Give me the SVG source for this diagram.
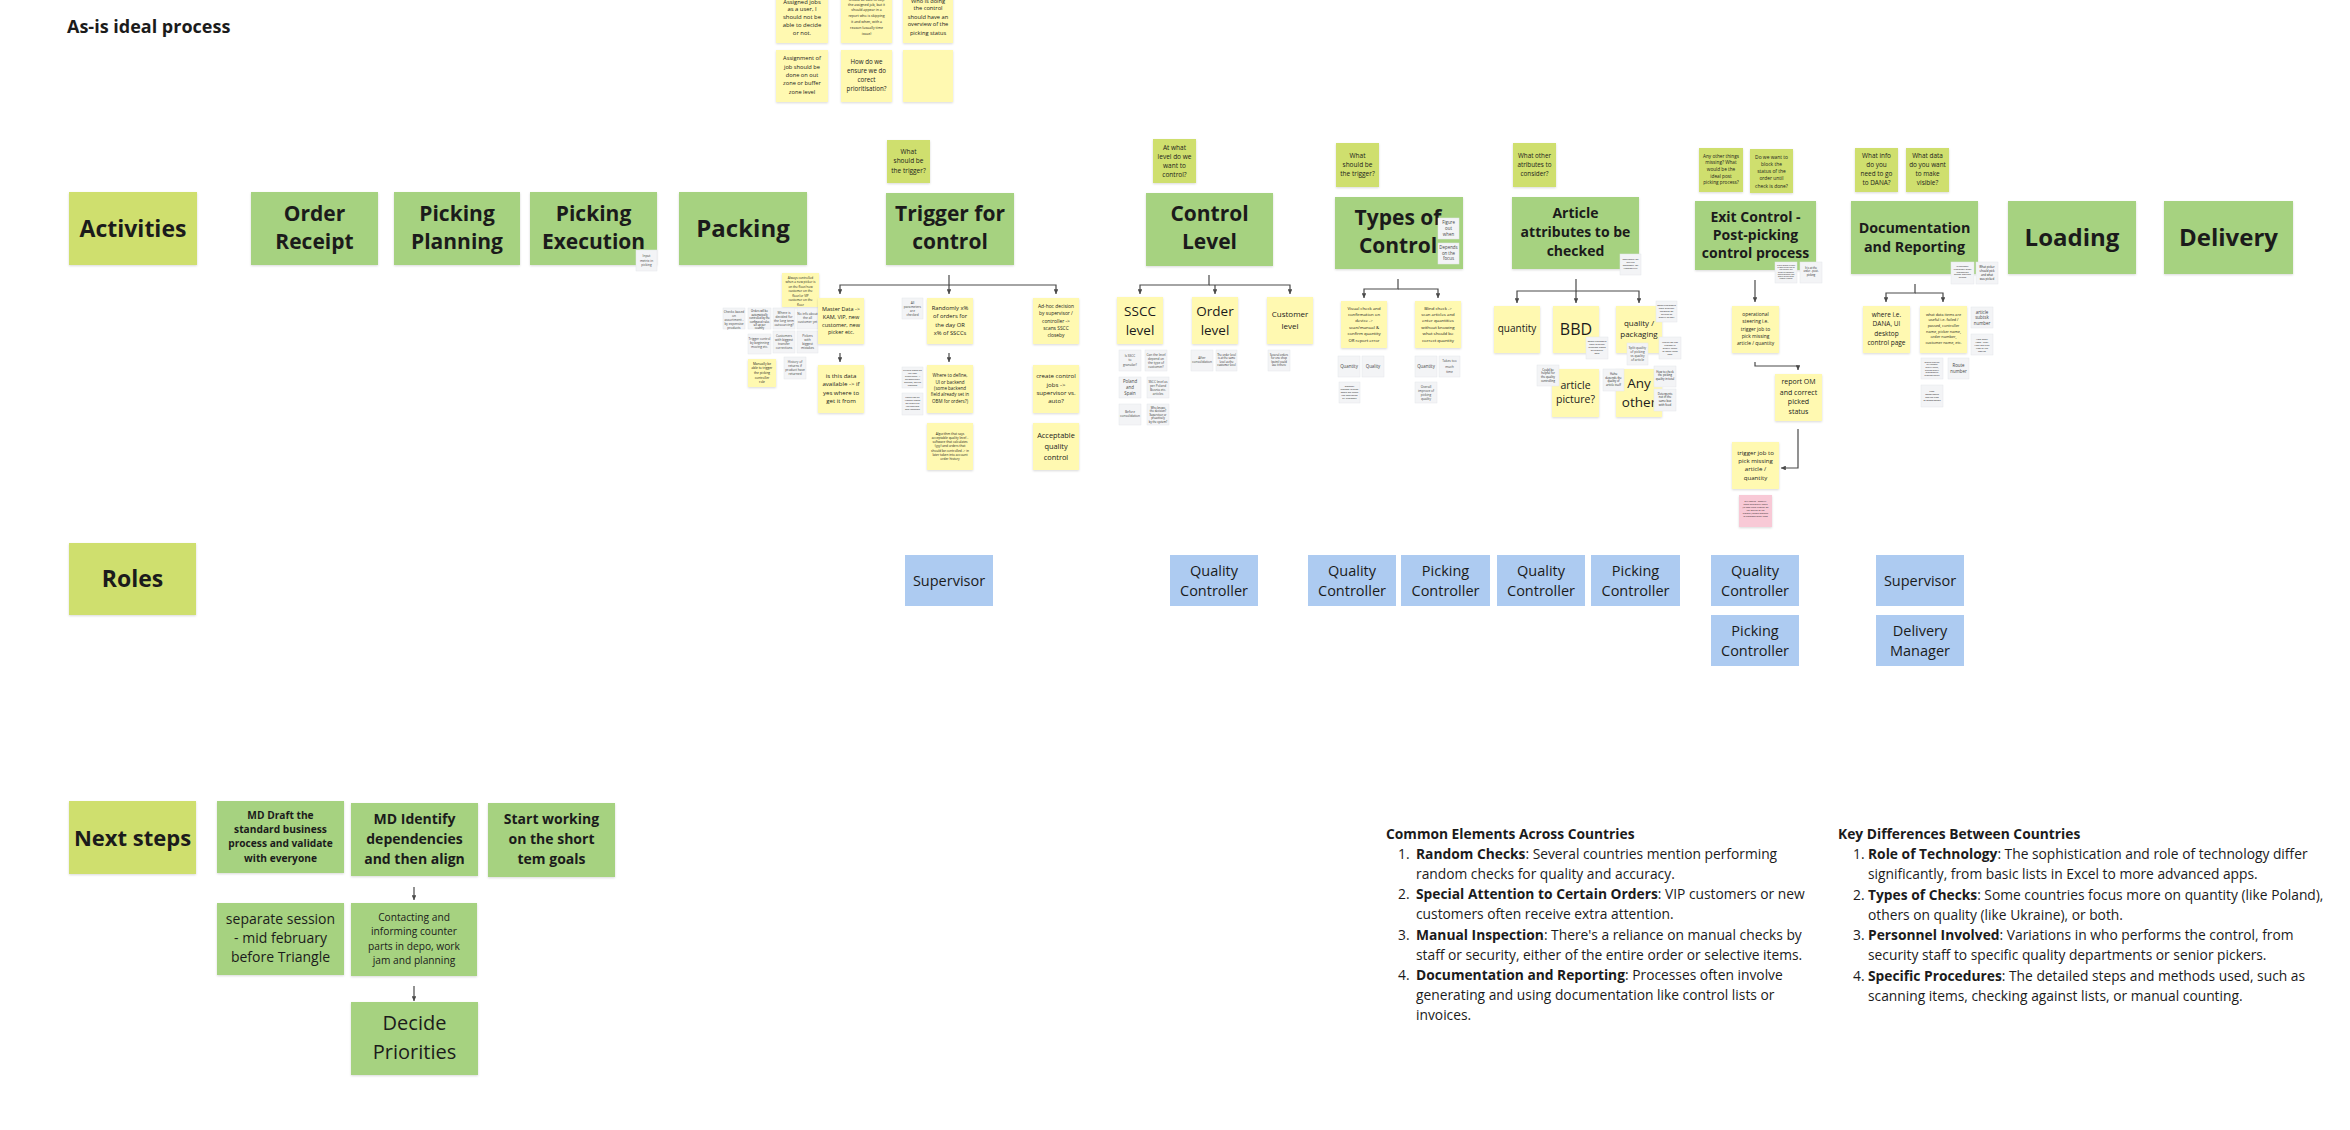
<svg xmlns="http://www.w3.org/2000/svg" width="2350" height="1130" viewBox="0 0 2350 1130">
<style>
text{font-family:"Open Sans","Noto Sans","DejaVu Sans",sans-serif;fill:#1b1b1b;text-anchor:middle}
.b{font-weight:700}
.l{text-anchor:start}
.lime{fill:#cfdf6e}
.green{fill:#a6d280}
.yel{fill:#fff9b1}
.gray{fill:#f3f4f6;stroke:#e4e6ea;stroke-width:0.5}
.blue{fill:#adcbf1}
.pink{fill:#f8c9d6}
.sh{filter:url(#sh)}
.g3{font-size:3.2px;fill:#444}
.g4{font-size:4.4px;fill:#444}
.con{fill:none;stroke:#4a4a4a;stroke-width:1.2}
</style>
<defs>
<filter id="sh" x="-10%" y="-10%" width="120%" height="125%">
<feDropShadow dx="0" dy="1" stdDeviation="0.8" flood-color="#000" flood-opacity="0.15"/>
</filter>
<marker id="ah" viewBox="0 0 6 6" refX="6" refY="3" markerWidth="4" markerHeight="4" orient="auto">
<path d="M0,0 L6,3 L0,6 z" fill="#4a4a4a"/>
</marker>
</defs>
<rect width="2350" height="1130" fill="#ffffff"/>

<text id="title" class="b l" x="67" y="33" font-size="18">As-is ideal process</text>

<!-- connectors -->
<g id="connectors">
<path class="con" d="M949,275 V285 H840 V294" marker-end="url(#ah)"/>
<path class="con" d="M949,285 V294" marker-end="url(#ah)"/>
<path class="con" d="M949,285 H1056 V294" marker-end="url(#ah)"/>
<path class="con" d="M840,353 V362" marker-end="url(#ah)"/>
<path class="con" d="M949,353 V362" marker-end="url(#ah)"/>
<path class="con" d="M1209,275 V285 H1140 V294" marker-end="url(#ah)"/>
<path class="con" d="M1209,285 H1290 V294" marker-end="url(#ah)"/>
<path class="con" d="M1215,285 V294" marker-end="url(#ah)"/>
<path class="con" d="M1398,279 V289 H1364 V298" marker-end="url(#ah)"/>
<path class="con" d="M1398,289 H1438 V298" marker-end="url(#ah)"/>
<path class="con" d="M1576,279 V291 H1517 V303" marker-end="url(#ah)"/>
<path class="con" d="M1576,291 V303" marker-end="url(#ah)"/>
<path class="con" d="M1576,291 H1639 V303" marker-end="url(#ah)"/>
<path class="con" d="M1755,280 V302" marker-end="url(#ah)"/>
<path class="con" d="M1755,362 V366 H1798 V370" marker-end="url(#ah)"/>
<path class="con" d="M1798,429 V468 H1781" marker-end="url(#ah)"/>
<path class="con" d="M1915,284 V293 H1886 V302" marker-end="url(#ah)"/>
<path class="con" d="M1915,293 H1943 V302" marker-end="url(#ah)"/>
<path class="con" d="M414,887 V900" marker-end="url(#ah)"/>
<path class="con" d="M414,986 V1001" marker-end="url(#ah)"/>
</g>

<!-- row labels -->
<g id="lbl-activities"><rect class="lime sh" x="69" y="192" width="128" height="73"/><text class="b" x="133" y="237" font-size="23">Activities</text></g>
<g id="lbl-roles"><rect class="lime sh" x="69" y="543" width="127" height="72"/><text class="b" x="132.5" y="587" font-size="23">Roles</text></g>
<g id="lbl-next"><rect class="lime sh" x="69" y="801" width="127" height="73"/><text class="b" x="132.5" y="845.5" font-size="22">Next steps</text></g>

<!-- top notes -->
<g id="top-n1"><rect class="yel sh" x="776" y="-9" width="52" height="52"/><text x="802" font-size="5.9"><tspan x="802" y="3.7">Assigned jobs</tspan><tspan x="802" y="11">as a user, I</tspan><tspan x="802" y="18.7">should not be</tspan><tspan x="802" y="27">able to decide</tspan><tspan x="802" y="35.3">or not.</tspan></text></g>
<g id="top-n2"><rect class="yel sh" x="841" y="-9" width="51" height="52"/><text font-size="3.5"><tspan x="866.5" y="1.3">should be able to skip</tspan><tspan x="866.5" y="6.3">the assigned job, but it</tspan><tspan x="866.5" y="11.3">should appear in a</tspan><tspan x="866.5" y="17">report who is skipping</tspan><tspan x="866.5" y="23">it and when, with a</tspan><tspan x="866.5" y="28.6">reason (usually time</tspan><tspan x="866.5" y="34.6">issue)</tspan></text></g>
<g id="top-n3"><rect class="yel sh" x="903" y="-9" width="50" height="52"/><text font-size="5.7"><tspan x="928" y="3">Who is doing</tspan><tspan x="928" y="10.3">the control</tspan><tspan x="928" y="18.7">should have an</tspan><tspan x="928" y="26.3">overview of the</tspan><tspan x="928" y="34.7">picking status</tspan></text></g>
<g id="top-n4"><rect class="yel sh" x="776" y="50" width="52" height="52"/><text font-size="5.7"><tspan x="802" y="60.3">Assignment of</tspan><tspan x="802" y="68.7">job should be</tspan><tspan x="802" y="77">done on out</tspan><tspan x="802" y="85.3">zone or buffer</tspan><tspan x="802" y="93.7">zone level</tspan></text></g>
<g id="top-n5"><rect class="yel sh" x="841" y="50" width="51" height="52"/><text font-size="6.2"><tspan x="866.5" y="64">How do we</tspan><tspan x="866.5" y="73">ensure we do</tspan><tspan x="866.5" y="82.2">corect</tspan><tspan x="866.5" y="91.2">prioritisation?</tspan></text></g>
<g id="top-n6"><rect class="yel sh" x="903" y="50" width="50" height="52"/></g>

<!-- activities -->
<g id="act-order-receipt"><rect class="green sh" x="251" y="192" width="127" height="73"/><text class="b" font-size="21"><tspan x="314.5" y="221">Order</tspan><tspan x="314.5" y="249">Receipt</tspan></text></g>
<g id="act-picking-planning"><rect class="green sh" x="394" y="192" width="126" height="73"/><text class="b" font-size="21"><tspan x="457" y="221">Picking</tspan><tspan x="457" y="249">Planning</tspan></text></g>
<g id="act-picking-execution"><rect class="green sh" x="530" y="192" width="127" height="73"/><text class="b" font-size="21"><tspan x="593.5" y="221">Picking</tspan><tspan x="593.5" y="249">Execution</tspan></text>
<rect class="gray" x="636" y="250" width="21" height="21"/><text class="g3"><tspan x="646.5" y="257">Input</tspan><tspan x="646.5" y="261.5">metrix in</tspan><tspan x="646.5" y="266">picking</tspan></text></g>
<g id="act-packing"><rect class="green sh" x="679" y="192" width="128" height="73"/><text class="b" x="743" y="237" font-size="24">Packing</text></g>

<g id="act-trigger"><rect class="green sh" x="886" y="193" width="128" height="72"/><text class="b" font-size="21"><tspan x="950" y="220.7">Trigger for</tspan><tspan x="950" y="249.3">control</tspan></text></g>
<g id="q-trigger"><rect class="lime sh" x="887" y="140" width="43" height="43"/><text font-size="6.5"><tspan x="908.5" y="154">What</tspan><tspan x="908.5" y="163.3">should be</tspan><tspan x="908.5" y="172.6">the trigger?</tspan></text></g>

<g id="trigger-notes">
<rect class="yel sh" x="782" y="273" width="37" height="34"/><text font-size="3.1"><tspan x="800.5" y="278.8">Always controlled</tspan><tspan x="800.5" y="283.4">when a new picker is</tspan><tspan x="800.5" y="287.8">on the floor/new</tspan><tspan x="800.5" y="292.4">customer on the</tspan><tspan x="800.5" y="296.8">floor/or VIP</tspan><tspan x="800.5" y="301.4">customer on the</tspan><tspan x="800.5" y="305.8">floor</tspan></text>
<rect class="gray" x="723" y="308" width="22" height="21"/><text class="g3"><tspan x="734" y="313">Checks based</tspan><tspan x="734" y="317">on</tspan><tspan x="734" y="321">assortment -</tspan><tspan x="734" y="325">by expensive</tspan><tspan x="734" y="329">products</tspan></text>
<rect class="gray" x="748" y="308" width="23" height="21"/><text font-size="2.6" fill="#444"><tspan x="759.5" y="312">Orders will be</tspan><tspan x="759.5" y="315.5">automatically</tspan><tspan x="759.5" y="319">controlled by the</tspan><tspan x="759.5" y="322.5">configured rules</tspan><tspan x="759.5" y="326">set up per</tspan><tspan x="759.5" y="329">country</tspan></text>
<rect class="gray" x="773" y="308" width="22" height="21"/><text class="g3"><tspan x="784" y="314">Where is</tspan><tspan x="784" y="318">decided for</tspan><tspan x="784" y="322">the long term</tspan><tspan x="784" y="326">outsourcing?</tspan></text>
<rect class="gray" x="797" y="308" width="21" height="21"/><text class="g3"><tspan x="807.5" y="315">No info about</tspan><tspan x="807.5" y="319">the all</tspan><tspan x="807.5" y="323">customer yet</tspan></text>
<rect class="gray" x="748" y="334" width="23" height="20"/><text class="g3"><tspan x="759.5" y="340">Trigger control</tspan><tspan x="759.5" y="344">by beginning</tspan><tspan x="759.5" y="348">moving etc.</tspan></text>
<rect class="gray" x="773" y="331" width="22" height="22"/><text class="g3"><tspan x="784" y="337">Customers</tspan><tspan x="784" y="341">with biggest</tspan><tspan x="784" y="345">transfer</tspan><tspan x="784" y="349">corrections</tspan></text>
<rect class="gray" x="797" y="331" width="21" height="22"/><text class="g3"><tspan x="807.5" y="337">Pickers</tspan><tspan x="807.5" y="341">with</tspan><tspan x="807.5" y="345">biggest</tspan><tspan x="807.5" y="349">mistakes</tspan></text>
<rect class="yel sh" x="748" y="359" width="28" height="28"/><text font-size="3.2"><tspan x="762" y="364.5">Manually be</tspan><tspan x="762" y="369.2">able to trigger</tspan><tspan x="762" y="374.2">the picking</tspan><tspan x="762" y="378.9">controller</tspan><tspan x="762" y="383.2">role</tspan></text>
<rect class="gray" x="784" y="357" width="22" height="22"/><text class="g3"><tspan x="795" y="363">History of</tspan><tspan x="795" y="367">returns if</tspan><tspan x="795" y="371">product have</tspan><tspan x="795" y="375">returned</tspan></text>
<rect class="gray" x="902" y="298" width="21" height="21"/><text class="g3"><tspan x="912.5" y="303.5">All</tspan><tspan x="912.5" y="307.5">parameters</tspan><tspan x="912.5" y="311.5">are</tspan><tspan x="912.5" y="315.5">checked</tspan></text>
<rect class="gray" x="902" y="367" width="21" height="21"/><text font-size="2.4" fill="#444"><tspan x="912.5" y="371">Criteria based on</tspan><tspan x="912.5" y="374">the user</tspan><tspan x="912.5" y="377">experience -&gt;</tspan><tspan x="912.5" y="380">automatically</tspan><tspan x="912.5" y="383">defined, can be</tspan><tspan x="912.5" y="386">changed</tspan></text>
<rect class="gray" x="902" y="393" width="21" height="22"/><text font-size="2.4" fill="#444"><tspan x="912.5" y="398">Users can be</tspan><tspan x="912.5" y="401">trained based</tspan><tspan x="912.5" y="404">on results of</tspan><tspan x="912.5" y="407">the controls</tspan><tspan x="912.5" y="410">and feedback</tspan></text>
</g>

<g id="n-master-data"><rect class="yel sh" x="818" y="298" width="46" height="46"/><text font-size="5.5"><tspan x="841" y="311">Master Data -&gt;</tspan><tspan x="841" y="318.7">KAM, VIP, new</tspan><tspan x="841" y="326.7">customer, new</tspan><tspan x="841" y="334.3">picker etc.</tspan></text></g>
<g id="n-data-available"><rect class="yel sh" x="818" y="365" width="46" height="48"/><text font-size="6.1"><tspan x="841" y="378">is this data</tspan><tspan x="841" y="386.2">available -&gt; if</tspan><tspan x="841" y="394.9">yes where to</tspan><tspan x="841" y="403.2">get it from</tspan></text></g>
<g id="n-randomly"><rect class="yel sh" x="927" y="298" width="46" height="46"/><text font-size="5.8"><tspan x="950" y="309.8">Randomly x%</tspan><tspan x="950" y="318.1">of orders for</tspan><tspan x="950" y="326.8">the day OR</tspan><tspan x="950" y="334.8">x% of SSCCs</tspan></text></g>
<g id="n-where-define"><rect class="yel sh" x="927" y="365" width="46" height="48"/><text font-size="4.5"><tspan x="950" y="377.3">Where to define,</tspan><tspan x="950" y="383.6">UI or backend</tspan><tspan x="950" y="389.9">(some backend</tspan><tspan x="950" y="396.3">field already set in</tspan><tspan x="950" y="402.6">OBM for orders?)</tspan></text></g>
<g id="n-algorithm"><rect class="yel sh" x="927" y="423" width="46" height="47"/><text font-size="3.2"><tspan x="950" y="434.5">Algorithm that says</tspan><tspan x="950" y="438.5">acceptable quality level -</tspan><tspan x="950" y="442.9">software that calculates</tspan><tspan x="950" y="447.2">(yyy) and orders that</tspan><tspan x="950" y="451.5">should be controlled -&gt; in</tspan><tspan x="950" y="455.9">later taken into account</tspan><tspan x="950" y="460.2">order history</tspan></text></g>
<g id="n-adhoc"><rect class="yel sh" x="1033" y="298" width="46" height="46"/><text font-size="4.9"><tspan x="1056" y="307.8">Ad-hoc decision</tspan><tspan x="1056" y="315.1">by supervisor /</tspan><tspan x="1056" y="322.5">controller -&gt;</tspan><tspan x="1056" y="329.5">scans SSCC</tspan><tspan x="1056" y="336.5">closeby</tspan></text></g>
<g id="n-create-jobs"><rect class="yel sh" x="1033" y="365" width="46" height="48"/><text font-size="6.1"><tspan x="1056" y="377.9">create control</tspan><tspan x="1056" y="386.5">jobs -&gt;</tspan><tspan x="1056" y="395.2">supervisor vs.</tspan><tspan x="1056" y="403.2">auto?</tspan></text></g>
<g id="n-acceptable"><rect class="yel sh" x="1033" y="423" width="46" height="47"/><text font-size="7.4"><tspan x="1056" y="438.4">Acceptable</tspan><tspan x="1056" y="449">quality</tspan><tspan x="1056" y="459.7">control</tspan></text></g>

<!-- control level -->
<g id="act-control-level"><rect class="green sh" x="1146" y="193" width="127" height="73"/><text class="b" font-size="21"><tspan x="1209.5" y="220.7">Control</tspan><tspan x="1209.5" y="249.3">Level</tspan></text></g>
<g id="q-control-level"><rect class="lime sh" x="1153" y="139" width="43" height="44"/><text font-size="6.5"><tspan x="1174.5" y="149.6">At what</tspan><tspan x="1174.5" y="158.6">level do we</tspan><tspan x="1174.5" y="168">want to</tspan><tspan x="1174.5" y="177">control?</tspan></text></g>
<g id="n-sscc"><rect class="yel sh" x="1117" y="297" width="46" height="47"/><text font-size="13.5"><tspan x="1140" y="316">SSCC</tspan><tspan x="1140" y="335">level</tspan></text></g>
<g id="n-order-level"><rect class="yel sh" x="1192" y="297" width="46" height="47"/><text font-size="13.5"><tspan x="1215" y="316">Order</tspan><tspan x="1215" y="335">level</tspan></text></g>
<g id="n-customer-level"><rect class="yel sh" x="1267" y="297" width="46" height="47"/><text font-size="8"><tspan x="1290" y="317.2">Customer</tspan><tspan x="1290" y="328.9">level</tspan></text></g>
<g id="control-notes">
<rect class="gray" x="1119" y="350" width="22" height="21"/><text class="g3"><tspan x="1130" y="356.5">Is SSCC</tspan><tspan x="1130" y="361">to</tspan><tspan x="1130" y="365.5">granular?</tspan></text>
<rect class="gray" x="1145" y="350" width="22" height="21"/><text class="g3"><tspan x="1156" y="355.5">Can the level</tspan><tspan x="1156" y="359.5">depend on</tspan><tspan x="1156" y="363.5">the type of</tspan><tspan x="1156" y="367.5">customer?</tspan></text>
<rect class="gray" x="1119" y="377" width="22" height="21"/><text class="g4"><tspan x="1130" y="383">Poland</tspan><tspan x="1130" y="389">and</tspan><tspan x="1130" y="395">Spain</tspan></text>
<rect class="gray" x="1147" y="377" width="22" height="21"/><text class="g3"><tspan x="1158" y="382.5">SSCC level as</tspan><tspan x="1158" y="386.5">per Poland</tspan><tspan x="1158" y="390.5">Bosnia etc.</tspan><tspan x="1158" y="394.5">articles</tspan></text>
<rect class="gray" x="1119" y="404" width="22" height="21"/><text class="g3"><tspan x="1130" y="413">Before</tspan><tspan x="1130" y="417">consolidation</tspan></text>
<rect class="gray" x="1147" y="404" width="22" height="21"/><text font-size="2.7" fill="#444"><tspan x="1158" y="408.5">Who knows</tspan><tspan x="1158" y="412">the decision?</tspan><tspan x="1158" y="415.5">Supervisor or</tspan><tspan x="1158" y="419">proactively</tspan><tspan x="1158" y="422.5">by the system?</tspan></text>
<rect class="gray" x="1191" y="350" width="22" height="21"/><text class="g3"><tspan x="1202" y="359">After</tspan><tspan x="1202" y="363">consolidation</tspan></text>
<rect class="gray" x="1216" y="350" width="21" height="21"/><text font-size="2.7" fill="#444"><tspan x="1226.5" y="355.5">The order level</tspan><tspan x="1226.5" y="359">is at the same</tspan><tspan x="1226.5" y="362.5">level as the</tspan><tspan x="1226.5" y="366">customer level</tspan></text>
<rect class="gray" x="1268" y="350" width="22" height="21"/><text font-size="2.7" fill="#444"><tspan x="1279" y="355.5">Several orders</tspan><tspan x="1279" y="359">for one shop</tspan><tspan x="1279" y="362.5">(point) could</tspan><tspan x="1279" y="366">use it there</tspan></text>
</g>

<!-- types of control -->
<g id="act-types"><rect class="green sh" x="1335" y="197" width="128" height="72"/><text class="b" font-size="21"><tspan x="1398" y="225">Types of</tspan><tspan x="1398" y="253.3">Control</tspan></text>
<rect class="gray" x="1438" y="218" width="21" height="21"/><text class="g4"><tspan x="1448.5" y="223.5">Figure</tspan><tspan x="1448.5" y="229.5">out</tspan><tspan x="1448.5" y="235.5">when</tspan></text>
<rect class="gray" x="1438" y="243" width="21" height="21"/><text class="g4" font-size="4"><tspan x="1448.5" y="249">Depends</tspan><tspan x="1448.5" y="254.5">on the</tspan><tspan x="1448.5" y="260">focus</tspan></text></g>
<g id="q-types"><rect class="lime sh" x="1336" y="143" width="43" height="44"/><text font-size="6.5"><tspan x="1357.5" y="158">What</tspan><tspan x="1357.5" y="167">should be</tspan><tspan x="1357.5" y="176.3">the trigger?</tspan></text></g>
<g id="n-visual"><rect class="yel sh" x="1341" y="301" width="46" height="47"/><text font-size="4.3"><tspan x="1364" y="309.5">Visual check and</tspan><tspan x="1364" y="315.8">confirmation on</tspan><tspan x="1364" y="322.2">device -&gt;</tspan><tspan x="1364" y="328.5">scan/manual &amp;</tspan><tspan x="1364" y="335.2">confirm quantity</tspan><tspan x="1364" y="341.8">OR report error</tspan></text></g>
<g id="n-blind"><rect class="yel sh" x="1415" y="301" width="46" height="47"/><text font-size="4.3"><tspan x="1438" y="309.5">Blind check -&gt;</tspan><tspan x="1438" y="315.8">scan articles and</tspan><tspan x="1438" y="322.2">enter quantities</tspan><tspan x="1438" y="328.5">without knowing</tspan><tspan x="1438" y="335.2">what should be</tspan><tspan x="1438" y="341.8">correct quantity</tspan></text></g>
<g id="types-notes">
<rect class="gray" x="1338" y="356" width="22" height="21"/><text class="g4" x="1349" y="368">Quantity</text>
<rect class="gray" x="1362" y="356" width="22" height="21"/><text class="g4" x="1373" y="368">Quality</text>
<rect class="gray" x="1339" y="382" width="21" height="21"/><text font-size="2.5" fill="#444"><tspan x="1349.5" y="387">Scanner</tspan><tspan x="1349.5" y="390">needed to scan</tspan><tspan x="1349.5" y="393">when we check</tspan><tspan x="1349.5" y="396">the controlled</tspan><tspan x="1349.5" y="399">by customer</tspan></text>
<rect class="gray" x="1415" y="356" width="22" height="21"/><text class="g4" x="1426" y="368">Quantity</text>
<rect class="gray" x="1439" y="356" width="21" height="21"/><text class="g3" font-size="3.6"><tspan x="1449.5" y="362">Takes too</tspan><tspan x="1449.5" y="367.5">much</tspan><tspan x="1449.5" y="373">time</tspan></text>
<rect class="gray" x="1415" y="382" width="22" height="21"/><text class="g3"><tspan x="1426" y="387.5">Overall</tspan><tspan x="1426" y="391.5">improve of</tspan><tspan x="1426" y="395.5">picking</tspan><tspan x="1426" y="399.5">quality</tspan></text>
</g>

<!-- article attributes -->
<g id="act-article"><rect class="green sh" x="1512" y="197" width="127" height="72"/><text class="b" font-size="14"><tspan x="1575.5" y="218">Article</tspan><tspan x="1575.5" y="237">attributes to be</tspan><tspan x="1575.5" y="256">checked</tspan></text>
<rect class="gray" x="1620" y="254" width="21" height="21"/><text font-size="2.5" fill="#444"><tspan x="1630.5" y="259.5">Document for</tspan><tspan x="1630.5" y="262.5">picture</tspan><tspan x="1630.5" y="265.5">necessary for</tspan><tspan x="1630.5" y="268.5">traceability?</tspan></text></g>
<g id="q-article"><rect class="lime sh" x="1513" y="143" width="43" height="44"/><text font-size="6.3"><tspan x="1534.5" y="157.6">What other</tspan><tspan x="1534.5" y="167">atributes to</tspan><tspan x="1534.5" y="176.3">consider?</tspan></text></g>
<g id="n-quantity"><rect class="yel sh" x="1494" y="306" width="46" height="47"/><text x="1517" y="332.3" font-size="10">quantity</text></g>
<g id="n-bbd"><rect class="yel sh" x="1553" y="306" width="46" height="47"/><text x="1576" y="334.5" font-size="16">BBD</text></g>
<g id="n-quality-packaging"><rect class="yel sh" x="1616" y="306" width="46" height="47"/><text font-size="8"><tspan x="1639" y="326.2">quality /</tspan><tspan x="1639" y="336.9">packaging</tspan></text></g>
<g id="n-article-picture"><rect class="yel sh" x="1552" y="369" width="47" height="48"/><text font-size="10.5"><tspan x="1575.5" y="388.8">article</tspan><tspan x="1575.5" y="403.1">picture?</tspan></text></g>
<g id="n-any-other"><rect class="yel sh" x="1616" y="369" width="46" height="48"/><text font-size="13.5"><tspan x="1639" y="388.2">Any</tspan><tspan x="1639" y="406.6">other</tspan></text></g>
<g id="article-notes">
<rect class="gray" x="1656" y="301" width="21" height="21"/><text font-size="2.4" fill="#444"><tspan x="1666.5" y="305.5">Some customers</tspan><tspan x="1666.5" y="308.5">have different</tspan><tspan x="1666.5" y="311.5">feedback on</tspan><tspan x="1666.5" y="314.5">articles as</tspan><tspan x="1666.5" y="317.5">quality as well</tspan></text>
<rect class="gray" x="1586" y="337" width="22" height="22"/><text font-size="2.4" fill="#444"><tspan x="1597" y="342">Some customers</tspan><tspan x="1597" y="345">have different</tspan><tspan x="1597" y="348">feedback based</tspan><tspan x="1597" y="351">on product</tspan><tspan x="1597" y="354">BBD</tspan></text>
<rect class="gray" x="1659" y="337" width="22" height="22"/><text font-size="2.4" fill="#444"><tspan x="1670" y="342.5">Maybe we can</tspan><tspan x="1670" y="345.5">customize</tspan><tspan x="1670" y="348.5">quality check</tspan><tspan x="1670" y="351.5">to make them</tspan><tspan x="1670" y="354.5">easy</tspan></text>
<rect class="gray" x="1627" y="343" width="21" height="22"/><text class="g3"><tspan x="1637.5" y="349">Split quality</tspan><tspan x="1637.5" y="353">of picking</tspan><tspan x="1637.5" y="357">vs quality</tspan><tspan x="1637.5" y="361">of article</tspan></text>
<rect class="gray" x="1537" y="365" width="22" height="21"/><text font-size="2.8" fill="#444"><tspan x="1548" y="370.5">Could be</tspan><tspan x="1548" y="374.2">helpful for</tspan><tspan x="1548" y="377.9">the quality</tspan><tspan x="1548" y="381.6">controlling</tspan></text>
<rect class="gray" x="1603" y="369" width="21" height="22"/><text font-size="2.8" fill="#444"><tspan x="1613.5" y="375">Huhu</tspan><tspan x="1613.5" y="378.7">depends the</tspan><tspan x="1613.5" y="382.4">quality of</tspan><tspan x="1613.5" y="386.1">article itself</tspan></text>
<rect class="gray" x="1654" y="366" width="22" height="21"/><text font-size="2.8" fill="#444"><tspan x="1665" y="372.5">How to check</tspan><tspan x="1665" y="376.2">the picking</tspan><tspan x="1665" y="379.9">quality in total</tspan></text>
<rect class="gray" x="1654" y="389" width="22" height="22"/><text font-size="2.8" fill="#444"><tspan x="1665" y="394.5">Detergents</tspan><tspan x="1665" y="398.2">not in the</tspan><tspan x="1665" y="401.9">same box</tspan><tspan x="1665" y="405.6">with food</tspan></text>
</g>

<!-- exit control -->
<g id="act-exit"><rect class="green sh" x="1695" y="201" width="121" height="69"/><text class="b" font-size="14"><tspan x="1755.5" y="222">Exit Control -</tspan><tspan x="1755.5" y="240">Post-picking</tspan><tspan x="1755.5" y="258">control process</tspan></text>
<rect class="gray" x="1775" y="262" width="22" height="21"/><text font-size="1.8" fill="#555"><tspan x="1786" y="266">In Exit control a check</tspan><tspan x="1786" y="268.2">is done at the end of</tspan><tspan x="1786" y="270.4">the picking: the</tspan><tspan x="1786" y="272.6">picker or controller</tspan><tspan x="1786" y="274.8">checks quantity and</tspan><tspan x="1786" y="277">quality of the order</tspan><tspan x="1786" y="279.2">before it leaves</tspan></text>
<rect class="gray" x="1800" y="262" width="22" height="21"/><text font-size="2.6" fill="#444"><tspan x="1811" y="268.5">It is at the</tspan><tspan x="1811" y="272">order - post-</tspan><tspan x="1811" y="275.5">picking</tspan></text></g>
<g id="q-exit-1"><rect class="lime sh" x="1699" y="148" width="44" height="44"/><text font-size="4.7"><tspan x="1721" y="157.7">Any other things</tspan><tspan x="1721" y="164.4">missing? What</tspan><tspan x="1721" y="171">would be the</tspan><tspan x="1721" y="177.7">ideal post</tspan><tspan x="1721" y="184.4">picking process?</tspan></text></g>
<g id="q-exit-2"><rect class="lime sh" x="1750" y="149" width="43" height="44"/><text font-size="4.9"><tspan x="1771.5" y="158.8">Do we want to</tspan><tspan x="1771.5" y="165.8">block the</tspan><tspan x="1771.5" y="173.1">status of the</tspan><tspan x="1771.5" y="180.1">order until</tspan><tspan x="1771.5" y="187.5">check is done?</tspan></text></g>
<g id="n-operational"><rect class="yel sh" x="1732" y="306" width="47" height="47"/><text font-size="4.9"><tspan x="1755.5" y="316.1">operational</tspan><tspan x="1755.5" y="323.1">steering i.e.</tspan><tspan x="1755.5" y="330.5">trigger job to</tspan><tspan x="1755.5" y="337.5">pick missing</tspan><tspan x="1755.5" y="344.5">article / quantity</tspan></text></g>
<g id="n-report-om"><rect class="yel sh" x="1775" y="374" width="47" height="47"/><text font-size="7"><tspan x="1798.5" y="384.2">report OM</tspan><tspan x="1798.5" y="394.5">and correct</tspan><tspan x="1798.5" y="404.2">picked</tspan><tspan x="1798.5" y="414.2">status</tspan></text></g>
<g id="n-trigger-job"><rect class="yel sh" x="1732" y="442" width="47" height="47"/><text font-size="6.1"><tspan x="1755.5" y="454.5">trigger job to</tspan><tspan x="1755.5" y="462.9">pick missing</tspan><tspan x="1755.5" y="470.9">article /</tspan><tspan x="1755.5" y="479.5">quantity</tspan></text></g>
<g id="n-pink"><rect class="pink sh" x="1739" y="495" width="33" height="32"/><text font-size="2.2" fill="#444"><tspan x="1755.5" y="502">Exit control - quantity</tspan><tspan x="1755.5" y="505">check and quality check</tspan><tspan x="1755.5" y="508">(in case there is doubt on</tspan><tspan x="1755.5" y="511">the feature or the</tspan><tspan x="1755.5" y="514">product) before shipping</tspan><tspan x="1755.5" y="517">to customer/other team</tspan></text></g>

<!-- documentation -->
<g id="act-documentation"><rect class="green sh" x="1851" y="201" width="127" height="73"/><text class="b" font-size="14.3"><tspan x="1914.5" y="232.5">Documentation</tspan><tspan x="1914.5" y="251.5">and Reporting</tspan></text>
<rect class="gray" x="1951" y="262" width="23" height="22"/><text font-size="2.2" fill="#444"><tspan x="1962.5" y="267">Is necessary</tspan><tspan x="1962.5" y="269.8">throughout order</tspan><tspan x="1962.5" y="272.6">information</tspan><tspan x="1962.5" y="275.4">against shortage</tspan><tspan x="1962.5" y="278.2">picked?</tspan></text>
<rect class="gray" x="1976" y="262" width="22" height="22"/><text font-size="2.8" fill="#444"><tspan x="1987" y="267.5">What picker</tspan><tspan x="1987" y="271.5">should pick</tspan><tspan x="1987" y="275.5">and what</tspan><tspan x="1987" y="279.5">was picked</tspan></text></g>
<g id="q-doc-1"><rect class="lime sh" x="1855" y="148" width="43" height="44"/><text font-size="6.4"><tspan x="1876.5" y="158">What info</tspan><tspan x="1876.5" y="167">do you</tspan><tspan x="1876.5" y="176">need to go</tspan><tspan x="1876.5" y="185">to DANA?</tspan></text></g>
<g id="q-doc-2"><rect class="lime sh" x="1906" y="148" width="43" height="44"/><text font-size="6.4"><tspan x="1927.5" y="158.3">What data</tspan><tspan x="1927.5" y="167">do you want</tspan><tspan x="1927.5" y="176">to make</tspan><tspan x="1927.5" y="184.6">visible?</tspan></text></g>
<g id="n-where-dana"><rect class="yel sh" x="1863" y="306" width="47" height="47"/><text font-size="6.5"><tspan x="1886.5" y="317.4">where i.e.</tspan><tspan x="1886.5" y="326.4">DANA, UI</tspan><tspan x="1886.5" y="335.7">desktop</tspan><tspan x="1886.5" y="345.1">control page</tspan></text></g>
<g id="n-data-items"><rect class="yel sh" x="1920" y="306" width="47" height="47"/><text font-size="3.8"><tspan x="1943.5" y="316.4">what data items are</tspan><tspan x="1943.5" y="321.4">useful i.e. failed /</tspan><tspan x="1943.5" y="327.1">passed, controller</tspan><tspan x="1943.5" y="332.7">name, picker name,</tspan><tspan x="1943.5" y="338.4">order number,</tspan><tspan x="1943.5" y="344.1">customer name, etc.</tspan></text></g>
<g id="doc-notes">
<rect class="gray" x="1971" y="307" width="22" height="21"/><text class="g4"><tspan x="1982" y="313.5">article</tspan><tspan x="1982" y="319">subtsk</tspan><tspan x="1982" y="324.5">number</tspan></text>
<rect class="gray" x="1971" y="334" width="22" height="21"/><text font-size="2.4" fill="#444"><tspan x="1982" y="339.5">How many</tspan><tspan x="1982" y="342.5">tasks - start</tspan><tspan x="1982" y="345.5">time and end</tspan><tspan x="1982" y="348.5">time of the</tspan><tspan x="1982" y="351.5">control</tspan></text>
<rect class="gray" x="1921" y="358" width="22" height="21"/><text font-size="2.1" fill="#444"><tspan x="1932" y="362.5">Should also see</tspan><tspan x="1932" y="365.2">fail reasons:</tspan><tspan x="1932" y="367.9">quality check,</tspan><tspan x="1932" y="370.6">picking quality</tspan><tspan x="1932" y="373.3">management</tspan><tspan x="1932" y="376">problem/issues</tspan></text>
<rect class="gray" x="1948" y="358" width="21" height="21"/><text class="g4"><tspan x="1958.5" y="367">Route</tspan><tspan x="1958.5" y="373">number</tspan></text>
<rect class="gray" x="1921" y="385" width="22" height="22"/><text font-size="2.3" fill="#444"><tspan x="1932" y="392">time</tspan><tspan x="1932" y="395">consolidated</tspan><tspan x="1932" y="398">and the time</tspan><tspan x="1932" y="401">of consolidation</tspan></text>
</g>

<g id="act-loading"><rect class="green sh" x="2008" y="201" width="128" height="73"/><text class="b" x="2072" y="246" font-size="24">Loading</text></g>
<g id="act-delivery"><rect class="green sh" x="2164" y="201" width="129" height="73"/><text class="b" x="2228.5" y="246" font-size="24">Delivery</text></g>

<!-- roles -->
<g id="role-supervisor-1"><rect class="blue" x="905" y="555" width="88" height="51"/><text x="949" y="585.7" font-size="14.5">Supervisor</text></g>
<g id="role-qc-1"><rect class="blue" x="1170" y="555" width="88" height="51"/><text font-size="14.5"><tspan x="1214" y="575.5">Quality</tspan><tspan x="1214" y="595.5">Controller</tspan></text></g>
<g id="role-qc-2"><rect class="blue" x="1308" y="555" width="88" height="51"/><text font-size="14.5"><tspan x="1352" y="575.5">Quality</tspan><tspan x="1352" y="595.5">Controller</tspan></text></g>
<g id="role-pc-2"><rect class="blue" x="1401" y="555" width="89" height="51"/><text font-size="14.5"><tspan x="1445.5" y="575.5">Picking</tspan><tspan x="1445.5" y="595.5">Controller</tspan></text></g>
<g id="role-qc-3"><rect class="blue" x="1497" y="555" width="88" height="51"/><text font-size="14.5"><tspan x="1541" y="575.5">Quality</tspan><tspan x="1541" y="595.5">Controller</tspan></text></g>
<g id="role-pc-3"><rect class="blue" x="1591" y="555" width="89" height="51"/><text font-size="14.5"><tspan x="1635.5" y="575.5">Picking</tspan><tspan x="1635.5" y="595.5">Controller</tspan></text></g>
<g id="role-qc-4"><rect class="blue" x="1711" y="555" width="88" height="51"/><text font-size="14.5"><tspan x="1755" y="575.5">Quality</tspan><tspan x="1755" y="595.5">Controller</tspan></text></g>
<g id="role-pc-4"><rect class="blue" x="1711" y="615" width="88" height="51"/><text font-size="14.5"><tspan x="1755" y="635.5">Picking</tspan><tspan x="1755" y="655.5">Controller</tspan></text></g>
<g id="role-supervisor-2"><rect class="blue" x="1876" y="555" width="88" height="51"/><text x="1920" y="585.7" font-size="14.5">Supervisor</text></g>
<g id="role-delivery-manager"><rect class="blue" x="1876" y="615" width="88" height="51"/><text font-size="14.5"><tspan x="1920" y="635.5">Delivery</tspan><tspan x="1920" y="655.5">Manager</tspan></text></g>

<!-- next steps -->
<g id="ns-md-draft"><rect class="green sh" x="217" y="801" width="127" height="72"/><text class="b" font-size="10.2"><tspan x="280.5" y="818.8">MD Draft the</tspan><tspan x="280.5" y="832.8">standard business</tspan><tspan x="280.5" y="846.8">process and validate</tspan><tspan x="280.5" y="861.8">with everyone</tspan></text></g>
<g id="ns-md-identify"><rect class="green sh" x="351" y="803" width="127" height="73"/><text class="b" font-size="14"><tspan x="414.5" y="824">MD Identify</tspan><tspan x="414.5" y="844">dependencies</tspan><tspan x="414.5" y="863.5">and then align</tspan></text></g>
<g id="ns-start-working"><rect class="green sh" x="488" y="803" width="127" height="74"/><text class="b" font-size="14"><tspan x="551.5" y="824">Start working</tspan><tspan x="551.5" y="844">on the short</tspan><tspan x="551.5" y="863.5">tem goals</tspan></text></g>
<g id="ns-separate-session"><rect class="green sh" x="217" y="903" width="127" height="72"/><text font-size="14"><tspan x="280.5" y="924">separate session</tspan><tspan x="280.5" y="943">- mid february</tspan><tspan x="280.5" y="962">before Triangle</tspan></text></g>
<g id="ns-contacting"><rect class="green sh" x="351" y="903" width="126" height="73"/><text font-size="10.2"><tspan x="414" y="920.7">Contacting and</tspan><tspan x="414" y="935.2">informing counter</tspan><tspan x="414" y="949.7">parts in depo, work</tspan><tspan x="414" y="964.2">jam and planning</tspan></text></g>
<g id="ns-decide"><rect class="green sh" x="351" y="1002" width="127" height="73"/><text font-size="20"><tspan x="414.5" y="1030">Decide</tspan><tspan x="414.5" y="1059">Priorities</tspan></text></g>

<!-- summary texts -->
<g id="common-elements" font-size="13.8">
<text class="b l" x="1386" y="838.5">Common Elements Across Countries</text>
<text class="l" x="1398" y="858.8">1.</text><text class="l" x="1416" y="858.8"><tspan class="b">Random Checks</tspan>: Several countries mention performing</text>
<text class="l" x="1416" y="878.8">random checks for quality and accuracy.</text>
<text class="l" x="1398" y="898.8">2.</text><text class="l" x="1416" y="898.8"><tspan class="b">Special Attention to Certain Orders</tspan>: VIP customers or new</text>
<text class="l" x="1416" y="918.8">customers often receive extra attention.</text>
<text class="l" x="1398" y="939.5">3.</text><text class="l" x="1416" y="939.5"><tspan class="b">Manual Inspection</tspan>: There's a reliance on manual checks by</text>
<text class="l" x="1416" y="959.5">staff or security, either of the entire order or selective items.</text>
<text class="l" x="1398" y="979.5">4.</text><text class="l" x="1416" y="979.5"><tspan class="b">Documentation and Reporting</tspan>: Processes often involve</text>
<text class="l" x="1416" y="999.5">generating and using documentation like control lists or</text>
<text class="l" x="1416" y="1019.5">invoices.</text>
</g>
<g id="key-differences" font-size="13.8">
<text class="b l" x="1838" y="838.5">Key Differences Between Countries</text>
<text class="l" x="1853" y="858.5">1.</text><text class="l" x="1868" y="858.5"><tspan class="b">Role of Technology</tspan>: The sophistication and role of technology differ</text>
<text class="l" x="1868" y="878.5">significantly, from basic lists in Excel to more advanced apps.</text>
<text class="l" x="1853" y="899.5">2.</text><text class="l" x="1868" y="899.5"><tspan class="b">Types of Checks</tspan>: Some countries focus more on quantity (like Poland),</text>
<text class="l" x="1868" y="919.5">others on quality (like Ukraine), or both.</text>
<text class="l" x="1853" y="939.5">3.</text><text class="l" x="1868" y="939.5"><tspan class="b">Personnel Involved</tspan>: Variations in who performs the control, from</text>
<text class="l" x="1868" y="959.5">security staff to specific quality departments or senior pickers.</text>
<text class="l" x="1853" y="980.5">4.</text><text class="l" x="1868" y="980.5"><tspan class="b">Specific Procedures</tspan>: The detailed steps and methods used, such as</text>
<text class="l" x="1868" y="1000.5">scanning items, checking against lists, or manual counting.</text>
</g>
</svg>
